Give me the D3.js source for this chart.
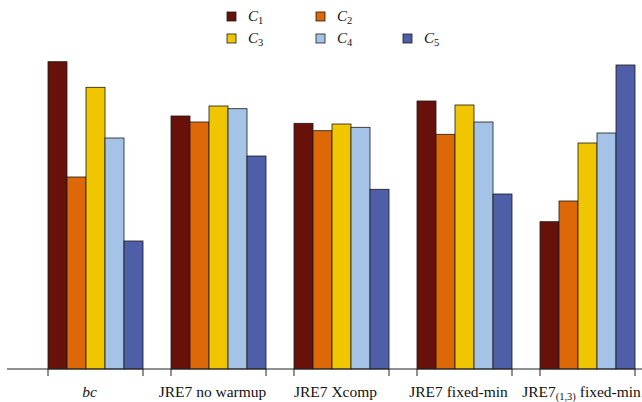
<!DOCTYPE html>
<html><head><meta charset="utf-8">
<script src="https://cdn.jsdelivr.net/npm/d3@7"></script>
<style>body{margin:0;background:#fff}svg{display:block}</style>
</head><body>
<svg id="c" width="642" height="402"></svg>
<script>
const categories = ["bc", "JRE7 no warmup", "JRE7 Xcomp", "JRE7 fixed-min", "JRE7(1,3) fixed-min"];
const seriesNames = ["C1", "C2", "C3", "C4", "C5"];
const C1 = [307.3, 253, 245.7, 268, 147.3];
const C2 = [192, 247, 238.3, 234.7, 168];
const C3 = [281.7, 263, 245, 264, 226];
const C4 = [231, 260.3, 241.7, 247, 236];
const C5 = [128, 213, 179.7, 175, 304];
const seriesValues = [C1, C2, C3, C4, C5];
const colors = ["#68110a", "#dc6808", "#f0c600", "#a5c3e6", "#4e5fa8"];

const W = 642;
const svg = d3.select("#c");
const baseY = 369;
const x = d3.scaleBand().domain(categories).range([48, 635]).paddingInner(28/123).paddingOuter(0);
const xs = d3.scaleBand().domain(seriesNames).range([0, x.bandwidth()]);
const y = d3.scaleLinear().domain([0, 320]).range([baseY, baseY - 320]);

// bars
categories.forEach((cat, i) => {
  seriesNames.forEach((s, j) => {
    const v = seriesValues[j][i];
    svg.append("rect")
      .attr("x", x(cat) + xs(s))
      .attr("y", y(v))
      .attr("width", xs.bandwidth())
      .attr("height", y(0) - y(v))
      .attr("fill", colors[j])
      .attr("stroke", "#1a1a1a")
      .attr("stroke-width", 0.8);
  });
});

// axis line
svg.append("line").attr("x1", 7).attr("x2", W).attr("y1", baseY).attr("y2", baseY)
  .attr("stroke", "#222").attr("stroke-width", 1);
// ticks at group edges
categories.forEach(cat => {
  [x(cat), x(cat) + x.bandwidth()].forEach(px => {
    svg.append("line").attr("x1", px).attr("x2", px).attr("y1", baseY).attr("y2", baseY + 7)
      .attr("stroke", "#222").attr("stroke-width", 1);
  });
});

// labels
categories.forEach((cat, i) => {
  const cx = x(cat) + x.bandwidth() / 2 - 6;
  const t = svg.append("text")
    .attr("x", cx)
    .attr("y", 396.5)
    .attr("text-anchor", "middle")
    .attr("font-family", "'Liberation Serif', serif")
    .attr("font-size", 15.5)
    .attr("fill", "#111");
  if (cat === "bc") {
    t.attr("font-style", "italic").text("bc");
  } else if (cat === "JRE7(1,3) fixed-min") {
    t.append("tspan").text("JRE7");
    t.append("tspan").attr("font-size", 10.5).attr("dy", 3).text("(1,3)");
    t.append("tspan").attr("dy", -3).text(" fixed-min");
  } else {
    t.text(cat);
  }
  const w = t.node().getComputedTextLength();
  if (cx + w / 2 > W - 1) t.attr("x", W - 1 - w / 2);
});

// legend
const legendPos = [[227, 12], [316, 12], [227, 34], [316, 34], [403, 34]];
seriesNames.forEach((s, j) => {
  const [lx, ly] = legendPos[j];
  svg.append("rect").attr("x", lx).attr("y", ly).attr("width", 9).attr("height", 9)
    .attr("fill", colors[j]).attr("stroke", "#1a1a1a").attr("stroke-width", 0.8);
  const t = svg.append("text").attr("x", lx + 21).attr("y", ly + 9)
    .attr("font-family", "'Liberation Serif', serif").attr("font-size", 15).attr("fill", "#111");
  t.append("tspan").attr("font-style", "italic").text("C");
  t.append("tspan").attr("font-size", 10.5).attr("dy", 3).text(s.slice(1));
});
</script>
</body></html>
